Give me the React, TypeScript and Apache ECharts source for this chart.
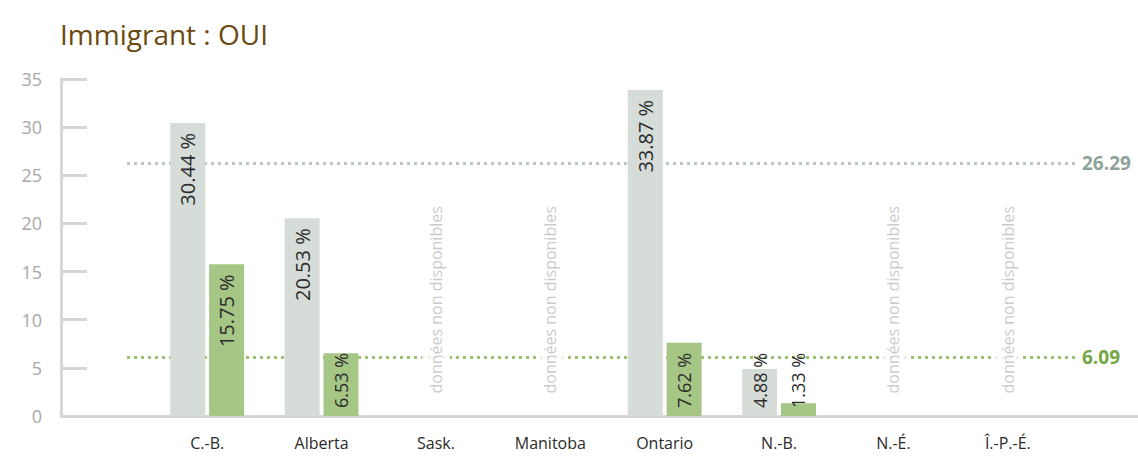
import React, { useEffect, useRef } from "react";
import * as echarts from "echarts";

const categories = ["C.-B.", "Alberta", "Sask.", "Manitoba", "Ontario", "N.-B.", "N.-É.", "Î.-P.-É."];
const greyValues: (number | null)[] = [30.44, 20.53, null, null, 33.87, 4.88, null, null];
const greenValues: (number | null)[] = [15.75, 6.53, null, null, 7.62, 1.33, null, null];
const greyAverage = 26.29;
const greenAverage = 6.09;
const yMin = 0;
const yMax = 35;
const yInterval = 5;
const titleText = "Immigrant : OUI";
const ndText = "données non disponibles";

const FONT = "'Open Sans', 'Noto Sans', sans-serif";
const GREY = "#d6ddd9";
const GREEN = "#a6c686";

function barItems(values: (number | null)[]) {
  return values.map((v) => {
    if (v == null) return null;
    const tall = v >= 10;
    return {
      value: v,
      label: {
        show: true,
        rotate: 90,
        position: tall ? "insideTop" : "insideBottom",
        align: tall ? "right" : "left",
        verticalAlign: "middle",
        distance: tall ? 10 : 8,
        formatter: () => `${v.toFixed(2)} %`,
        color: "#2b2b2b",
        fontSize: tall ? 20 : 18,
        fontFamily: FONT,
      },
    };
  });
}

export default function App() {
  const ref = useRef<HTMLDivElement>(null);
  useEffect(() => {
    if (!ref.current) return;
    const chart = echarts.init(ref.current, undefined, { renderer: "svg" });
    const ndData = categories
      .map((c, i) => (greyValues[i] == null && greenValues[i] == null ? [c, 0] : null))
      .filter((d) => d != null);
    const option: any = {
      animation: false,
      backgroundColor: "#ffffff",
      title: {
        text: titleText,
        left: 55,
        top: 15,
        textStyle: { fontSize: 28, fontWeight: "normal", color: "#6b4a12", fontFamily: FONT },
      },
      grid: [
        { left: 61, right: 0, top: 79, bottom: 41 },
        { left: 150, width: 915, top: 79, bottom: 41 },
      ],
      xAxis: [
        {
          gridIndex: 0,
          type: "value",
          min: 0,
          max: 1,
          axisLine: { show: true, lineStyle: { color: "#d6d6d6", width: 3 } },
          axisTick: { show: false },
          axisLabel: { show: false },
          splitLine: { show: false },
        },
        {
          gridIndex: 1,
          type: "category",
          data: categories,
          axisLine: { show: false },
          axisTick: { show: false },
          axisLabel: { color: "#2b2b2b", fontSize: 16, fontFamily: FONT, margin: 19 },
        },
      ],
      yAxis: [
        {
          gridIndex: 0,
          type: "value",
          min: yMin,
          max: yMax,
          interval: yInterval,
          axisLine: { show: true, lineStyle: { color: "#d6d6d6", width: 3 } },
          axisTick: { show: true, inside: true, length: 26, lineStyle: { color: "#d6d6d6", width: 3 } },
          axisLabel: { color: "#a8a8a8", fontSize: 18, fontFamily: FONT, margin: 19 },
          splitLine: { show: false },
        },
        {
          gridIndex: 1,
          type: "value",
          min: yMin,
          max: yMax,
          interval: yInterval,
          show: false,
        },
      ],
      series: [
        {
          type: "bar",
          xAxisIndex: 1,
          yAxisIndex: 1,
          barWidth: 35,
          barGap: "11%",
          itemStyle: { color: GREY },
          z: 3,
          data: barItems(greyValues),
          markLine: {
            symbol: "none",
            silent: true,
            z: 1,
            lineStyle: { type: [3, 4], width: 3, color: "#bcc6c0" },
            label: {
              show: true,
              position: "end",
              distance: 7,
              formatter: () => greyAverage.toFixed(2),
              color: "#8ea397",
              fontSize: 19,
              fontWeight: "bold",
              fontFamily: FONT,
            },
            data: [[{ x: 127, yAxis: greyAverage }, { x: 1075, yAxis: greyAverage }]],
          },
        },
        {
          type: "bar",
          xAxisIndex: 1,
          yAxisIndex: 1,
          barWidth: 35,
          barGap: "11%",
          itemStyle: { color: GREEN },
          z: 3,
          data: barItems(greenValues),
          markLine: {
            symbol: "none",
            silent: true,
            z: 1,
            lineStyle: { type: [3, 4], width: 3, color: "#9dc274" },
            label: {
              show: true,
              position: "end",
              distance: 7,
              formatter: () => greenAverage.toFixed(2),
              color: "#74a643",
              fontSize: 19,
              fontWeight: "bold",
              fontFamily: FONT,
            },
            data: [[{ x: 127, yAxis: greenAverage }, { x: 1075, yAxis: greenAverage }]],
          },
        },
        {
          type: "scatter",
          xAxisIndex: 1,
          yAxisIndex: 1,
          symbolSize: 1,
          itemStyle: { color: "rgba(0,0,0,0)" },
          z: 10,
          silent: true,
          data: ndData,
          label: {
            show: true,
            position: "top",
            distance: 20,
            rotate: 90,
            align: "left",
            verticalAlign: "middle",
            formatter: ndText,
            color: "#bdbdbd",
            fontSize: 16,
            fontFamily: FONT,
            backgroundColor: "#ffffff",
            padding: [6, 2],
          },
        },
      ],
    };
    chart.setOption(option);
    return () => chart.dispose();
  }, []);
  return (
    <div
      ref={ref}
      style={{ position: "fixed", left: 0, top: 0, width: 1138, height: 457, background: "#fff" }}
    />
  );
}
